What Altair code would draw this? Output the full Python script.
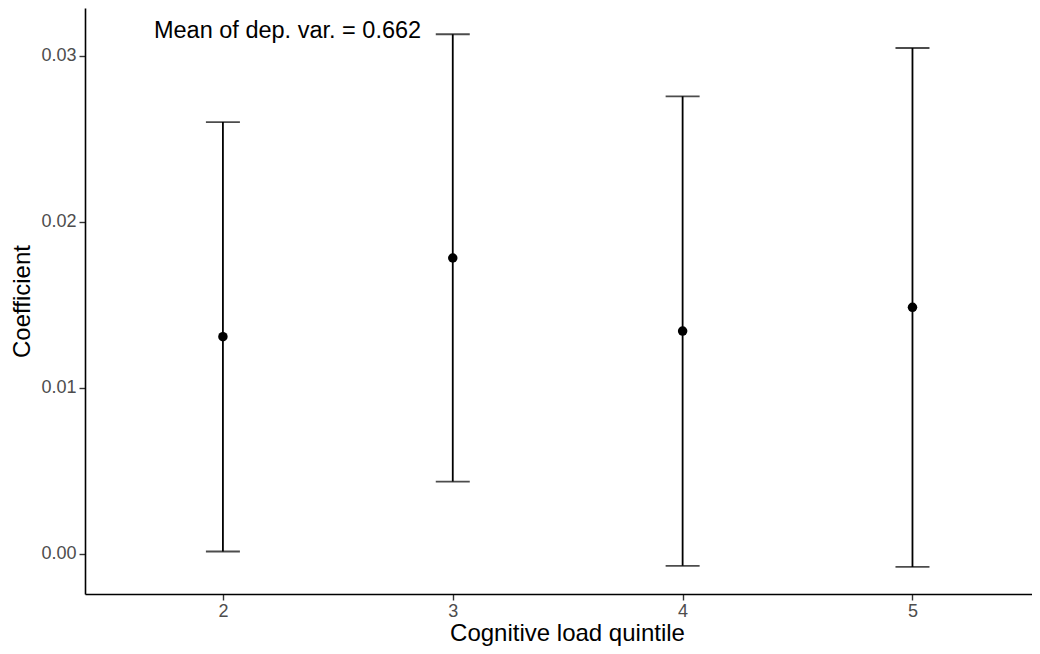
import altair as alt
import pandas as pd

quintile = [2, 3, 4, 5]
coef = [0.01309, 0.01783, 0.01343, 0.01486]
ci_low = [0.00015, 0.00436, -0.00071, -0.00078]
ci_high = [0.02602, 0.03131, 0.02757, 0.03048]

ann_text = ["Mean of dep. var. = 0.662"]
ann_x = [1.7]
ann_y = [0.03108]

df = pd.DataFrame({"q": quintile, "coef": coef, "lo": ci_low, "hi": ci_high})
ann = pd.DataFrame({"x": ann_x, "y": ann_y, "t": ann_text})

FONT = "Liberation Sans"
xs = alt.Scale(domain=[1.4, 5.52], nice=False, zero=False)
ys = alt.Scale(domain=[-0.00241, 0.03289], nice=False, zero=False)

common = dict(grid=False, domainColor="black", domainWidth=1.6,
              tickColor="#333333", tickWidth=1.4, tickSize=6, labelColor="#4D4D4D",
              labelFontSize=18, labelFont=FONT,
              titleFont=FONT, titleFontSize=24, titleFontWeight="normal",
              titleColor="black")
xax = alt.Axis(values=quintile, format="d", title="Cognitive load quintile",
               labelPadding=2, titleBaseline="alphabetic", titleY=46, titleX=482,
               titleAlign="center", **common)
yax = alt.Axis(values=[0, 0.01, 0.02, 0.03], format=".2f", title="Coefficient",
               labelPadding=3, titlePadding=6, **common)

base = alt.Chart(df)
rules = base.mark_rule(color="black", strokeWidth=1.8).encode(
    x=alt.X("q:Q", scale=xs, axis=xax),
    y=alt.Y("lo:Q", scale=ys, axis=yax),
    y2="hi:Q",
)
cap_lo = base.mark_tick(color="black", thickness=1.8, size=34, orient="horizontal").encode(
    x=alt.X("q:Q", scale=xs), y=alt.Y("lo:Q", scale=ys)
)
cap_hi = base.mark_tick(color="black", thickness=1.8, size=34, orient="horizontal").encode(
    x=alt.X("q:Q", scale=xs), y=alt.Y("hi:Q", scale=ys)
)
pts = base.mark_circle(color="black", opacity=1, size=90).encode(
    x=alt.X("q:Q", scale=xs), y=alt.Y("coef:Q", scale=ys)
)
txt = alt.Chart(ann).mark_text(align="left", baseline="alphabetic", font=FONT,
                               fontSize=23.5, color="black").encode(
    x=alt.X("x:Q", scale=xs), y=alt.Y("y:Q", scale=ys), text="t:N"
)

chart = alt.layer(rules, cap_lo, cap_hi, pts, txt).properties(
    width=947, height=586,
    autosize=alt.AutoSizeParams(type="none"),
    padding={"left": 77, "top": 0, "right": 0, "bottom": 52},
).configure_view(stroke=None, strokeWidth=0)

chart.save("out.html", embed_options={"renderer": "svg", "actions": False})
